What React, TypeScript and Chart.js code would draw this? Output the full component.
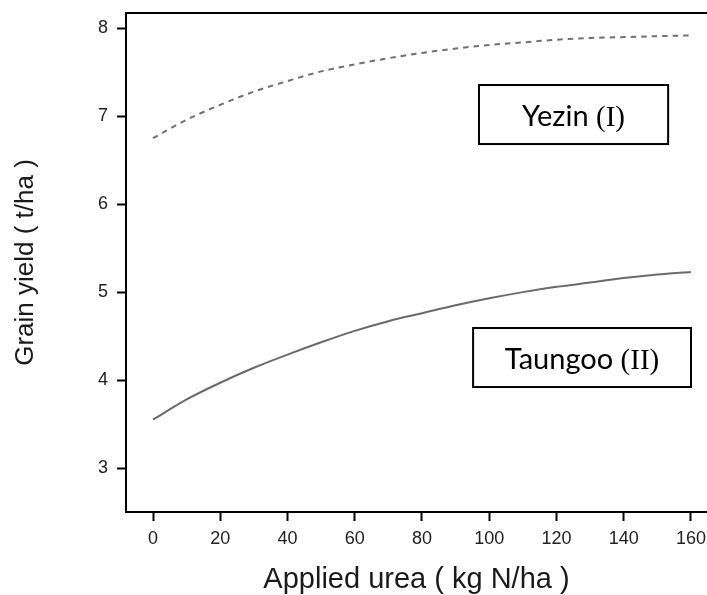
import React, { useEffect, useRef } from "react";
import { Chart, registerables } from "chart.js";

Chart.register(...registerables);

// ---- data ----
const ureaRates = [0, 10, 20, 30, 40, 50, 60, 70, 80, 90, 100, 110, 120, 130, 140, 150, 160];
const yezinYield = [6.75, 6.96, 7.13, 7.28, 7.40, 7.51, 7.59, 7.66, 7.72, 7.77, 7.81, 7.84, 7.87, 7.89, 7.90, 7.91, 7.92];
const taungooYield = [3.55, 3.78, 3.97, 4.14, 4.29, 4.43, 4.56, 4.67, 4.76, 4.85, 4.93, 5.0, 5.06, 5.11, 5.16, 5.2, 5.23];
const xTickValues = [0, 20, 40, 60, 80, 100, 120, 140, 160];
const yTickValues = [3, 4, 5, 6, 7, 8];
const siteNames = ["Yezin", "Taungoo"];
const siteNumerals = ["(I)", "(II)"];
const xTitle = "Applied urea ( kg N/ha )";
const yTitle = "Grain yield ( t/ha )";

// label box placement (data coordinates): [xMin, xMax, yTop, yBottom]
const boxPlacement = [
  [96.95, 153.2, 7.355, 6.684],
  [95.2, 160.0, 4.592, 3.921],
];

const framePlugin = {
  id: "frameAndBoxes",
  afterDraw(chart: any) {
    const { ctx, chartArea, scales } = chart;
    ctx.save();
    // top border of the plot box
    ctx.strokeStyle = "#000";
    ctx.lineWidth = 2;
    ctx.beginPath();
    ctx.moveTo(chartArea.left - 1, chartArea.top);
    ctx.lineTo(chartArea.right, chartArea.top);
    ctx.stroke();

    // site label boxes
    boxPlacement.forEach((b, i) => {
      const x0 = scales.x.getPixelForValue(b[0]);
      const x1 = scales.x.getPixelForValue(b[1]);
      const y0 = scales.y.getPixelForValue(b[2]);
      const y1 = scales.y.getPixelForValue(b[3]);
      ctx.fillStyle = "#fff";
      ctx.fillRect(x0, y0, x1 - x0, y1 - y0);
      ctx.strokeStyle = "#000";
      ctx.lineWidth = 2;
      ctx.strokeRect(x0, y0, x1 - x0, y1 - y0);

      const sansFont = "29px Lato";
      const serifFont = "29px 'Liberation Serif'";
      ctx.font = sansFont;
      const name = siteNames[i] + " ";
      const w1 = ctx.measureText(name).width;
      ctx.font = serifFont;
      const w2 = ctx.measureText(siteNumerals[i]).width;
      const total = w1 + w2;
      const cx = (x0 + x1) / 2;
      const baseY = (y0 + y1) / 2 + 11;
      ctx.textBaseline = "alphabetic";
      ctx.textAlign = "left";
      ctx.fillStyle = "#000";
      ctx.font = sansFont;
      ctx.fillText(name, cx - total / 2, baseY);
      ctx.font = serifFont;
      ctx.fillText(siteNumerals[i], cx - total / 2 + w1, baseY);
    });
    ctx.restore();
  },
};

export default function App() {
  const canvasRef = useRef<HTMLCanvasElement | null>(null);

  useEffect(() => {
    if (!canvasRef.current) return;
    const chart = new Chart(canvasRef.current, {
      type: "line",
      data: {
        datasets: [
          {
            label: "Yezin (I)",
            data: ureaRates.map((x, i) => ({ x, y: yezinYield[i] })),
            borderColor: "#707070",
            borderWidth: 2,
            borderDash: [5.5, 5],
            pointRadius: 0,
            cubicInterpolationMode: "monotone",
            fill: false,
          },
          {
            label: "Taungoo (II)",
            data: ureaRates.map((x, i) => ({ x, y: taungooYield[i] })),
            borderColor: "#6a6a6a",
            borderWidth: 2,
            pointRadius: 0,
            cubicInterpolationMode: "monotone",
            fill: false,
          },
        ],
      },
      options: {
        animation: false,
        responsive: false,
        layout: { padding: { top: 13, right: 0, bottom: 0, left: 0 } },
        plugins: {
          legend: { display: false },
          tooltip: { enabled: false },
        },
        scales: {
          x: {
            type: "linear",
            min: -8.03,
            max: 164.76,
            afterBuildTicks: (s: any) => {
              s.ticks = xTickValues.map((v) => ({ value: v }));
            },
            afterFit: (s: any) => {
              s.height = 83;
              s.paddingLeft = 0;
              s.paddingRight = 0;
            },
            grid: {
              display: true,
              drawOnChartArea: false,
              drawTicks: true,
              tickLength: 9,
              tickWidth: 2,
              tickColor: "#000",
            },
            border: { display: true, color: "#000", width: 2 },
            ticks: {
              padding: 7,
              color: "#222",
              font: { family: "'Liberation Sans', Arial", size: 18 },
              maxRotation: 0,
              autoSkip: false,
            },
            title: {
              display: true,
              text: xTitle,
              color: "#1a1a1a",
              font: { family: "'Liberation Sans', Arial", size: 29, lineHeight: 1 },
              padding: { top: 0, bottom: 1 },
            },
          },
          y: {
            type: "linear",
            min: 2.5,
            max: 8.174,
            afterBuildTicks: (s: any) => {
              s.ticks = yTickValues.map((v) => ({ value: v }));
            },
            afterFit: (s: any) => {
              s.width = 126;
              s.paddingTop = 0;
              s.paddingBottom = 0;
            },
            grid: {
              display: true,
              drawOnChartArea: false,
              drawTicks: true,
              tickLength: 9,
              tickWidth: 2,
              tickColor: "#000",
            },
            border: { display: true, color: "#000", width: 2 },
            ticks: {
              padding: 9,
              color: "#222",
              font: { family: "'Liberation Sans', Arial", size: 18 },
              autoSkip: false,
            },
            title: {
              display: true,
              text: yTitle,
              color: "#1a1a1a",
              font: { family: "'Liberation Sans', Arial", size: 26, lineHeight: 1 },
              padding: { top: 13, bottom: 0 },
            },
          },
        },
      },
      plugins: [framePlugin],
    });
    return () => chart.destroy();
  }, []);

  return (
    <canvas
      ref={canvasRef}
      width={707}
      height={595}
      style={{ position: "absolute", left: 0, top: 0, width: 707, height: 595 }}
    />
  );
}
